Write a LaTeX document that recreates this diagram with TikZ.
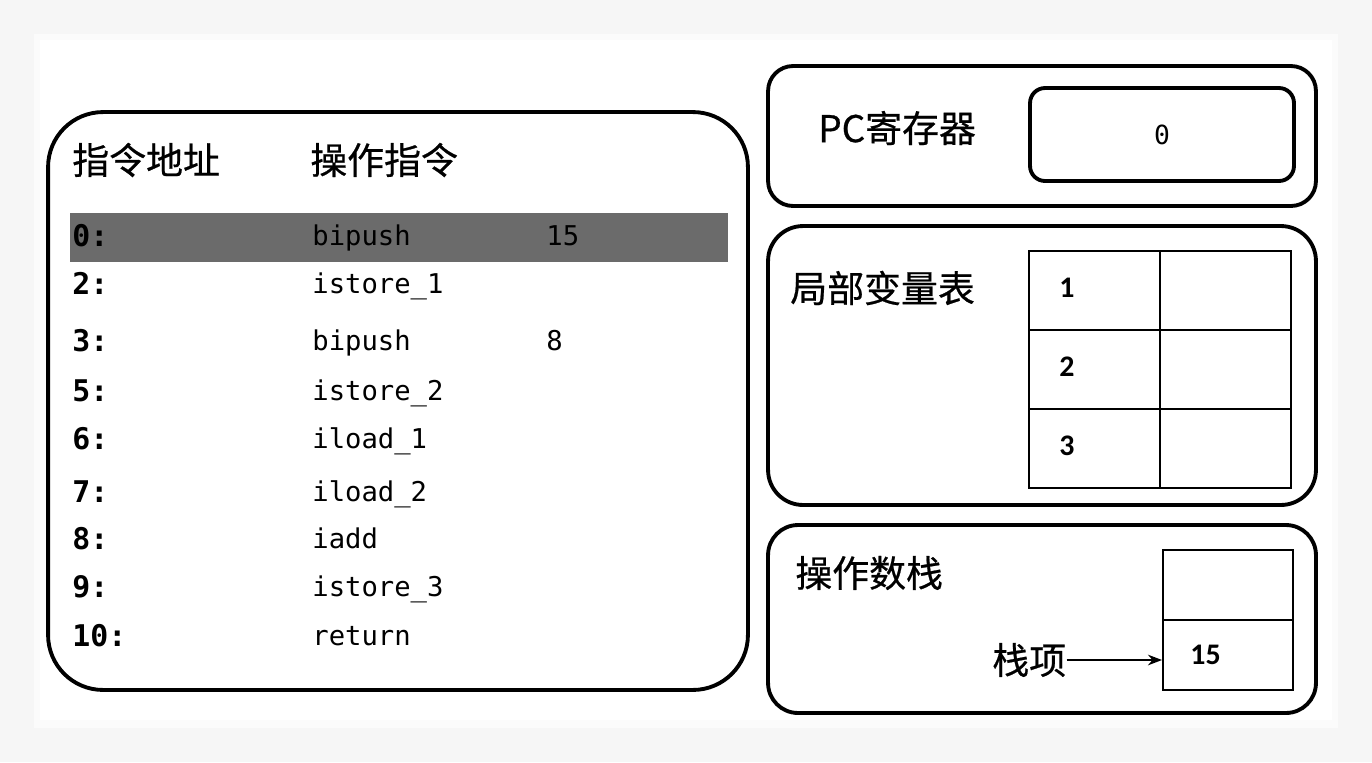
\documentclass[tikz,border=0pt]{standalone}
\usepackage{fontspec}
\setmonofont{DejaVu Sans Mono}
\setsansfont{Carlito}
\newfontfamily\cjk[FakeBold=0.6]{Noto Sans CJK SC}
\usepackage{tikz}
\usetikzlibrary{arrows.meta, positioning, calc}

\begin{document}
\begin{tikzpicture}[
	x=0.02cm, y=-0.02cm,
	panel/.style={draw, line width=2.2pt, rounded corners=#1, inner sep=0pt},
	panel/.default=0.6cm,
	cell/.style={draw, line width=1.1pt, inner sep=0pt},
	title/.style={font=\cjk\fontsize{21}{25}\selectfont, inner sep=0pt},
	addr/.style={font=\ttfamily\bfseries\fontsize{17}{20}\selectfont, inner sep=0pt, anchor=base west},
	instr/.style={font=\ttfamily\fontsize{15.5}{18}\selectfont, inner sep=0pt, anchor=base west},
	num/.style={font=\sffamily\bfseries\fontsize{17}{20}\selectfont, inner sep=0pt},
	arrow/.style={-{Stealth[length=8pt,width=6pt]}, line width=1.4pt}
]
\useasboundingbox (0,0) rectangle (1372,762);

% Background card
\fill[gray!7] (0,0) rectangle (1372,762);
\fill[gray!3] (34,34) rectangle (1338,728);
\fill[white] (40,40) rectangle (1332,720);

% Nodes
\node[panel=1.1cm, minimum width=14cm, minimum height=11.56cm] (code) at (398,401) {};
\node[title, anchor=west] (hdraddr) at (72,160) {指令地址};
\node[title, anchor=west] (hdrop) at (310,160) {操作指令};
\node[fill=black!58, inner sep=0pt, minimum width=13.16cm, minimum height=0.98cm] (cur) at (399,237.5) {};

\foreach \a/\y/\ins in {0/237/bipush, 2/285/istore\_1, 3/342/bipush, 5/392/istore\_2,
	6/440/iload\_1, 7/493/iload\_2, 8/540/iadd, 9/588/istore\_3, 10/637/return} {
	\node[addr] (a\a) at (72,\y+9) {\a:};
	\node[instr] (i\a) at (312,\y+8) {\ins};
}
\node[instr] (op0) at (546,245) {15};
\node[instr] (op3) at (546,350) {8};

% PC register
\node[panel=0.5cm, minimum width=10.96cm, minimum height=2.8cm] (pc) at (1042,136) {};
\node[title, anchor=west] (pclbl) at (818,128) {PC寄存器};
\node[panel=0.3cm, minimum width=5.28cm, minimum height=1.86cm] (pcval) at (1162,134.5) {};
\node[font=\ttfamily\fontsize{15}{18}\selectfont, inner sep=0pt] (pcnum) at (pcval) {0};

% Local variables
\node[panel=0.7cm, minimum width=10.96cm, minimum height=5.58cm] (lv) at (1042,365.5) {};
\node[title, anchor=west] (lvlbl) at (790,288) {局部变量表};
\foreach \r/\y in {1/290.5, 2/369.5, 3/448.5} {
	\node[cell, minimum width=2.62cm, minimum height=1.58cm] (lvk\r) at (1094.5,\y) {};
	\node[cell, minimum width=2.62cm, minimum height=1.58cm] (lvv\r) at (1225.5,\y) {};
	\node[num, anchor=west] (lvn\r) at (1059,\y-3) {\r};
}

% Operand stack
\node[panel=0.6cm, minimum width=10.96cm, minimum height=3.76cm] (os) at (1042,619) {};
\node[title, anchor=west] (oslbl) at (795,573) {操作数栈};
\node[cell, minimum width=2.6cm, minimum height=1.4cm] (s1) at (1228,585) {};
\node[cell, minimum width=2.6cm, minimum height=1.4cm] (s2) at (1228,655) {};
\node[num, anchor=west] (s2val) at (1190,655) {15};
\node[title, anchor=west] (top) at (992,660) {栈项};

% Edges
\draw[arrow] (top.east) -- (top.east -| s2.west);

\end{tikzpicture}
\end{document}
